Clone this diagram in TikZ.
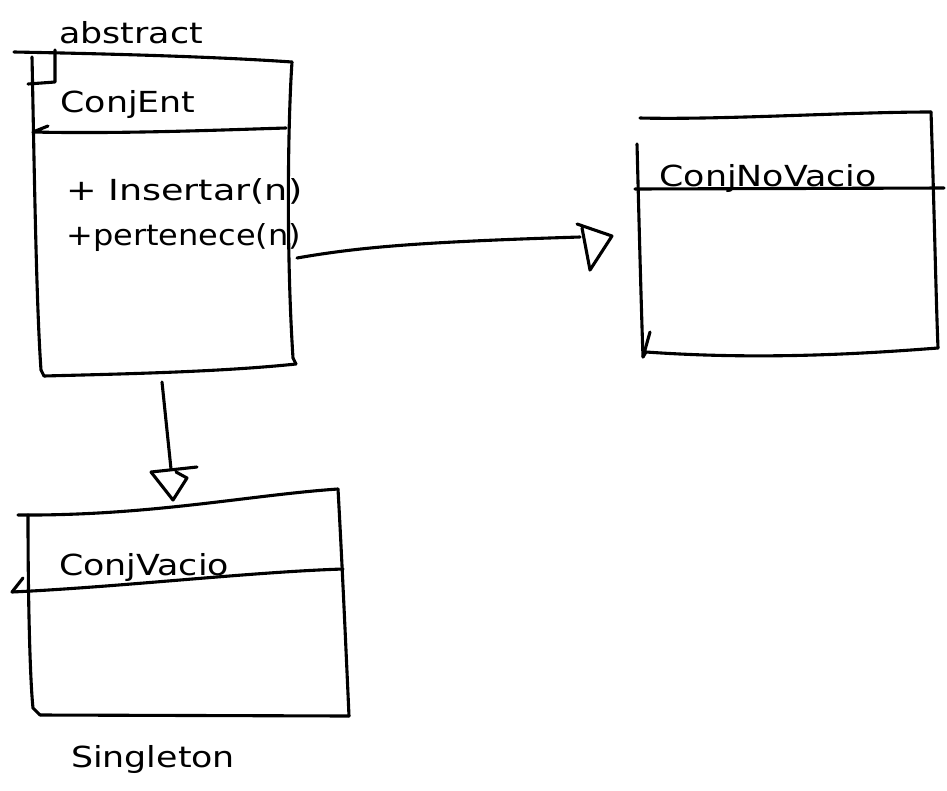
\documentclass[tikz,border=0pt]{standalone}
\usepackage{fontspec}
\newfontfamily\sketchfont[FakeStretch=1.2]{DejaVu Sans}
\begin{document}
\begin{tikzpicture}[x=1pt,y=-1pt,
  ink/.style={line width=3.1pt,line cap=round,line join=round,black},
  lbl/.style={font=\sketchfont\fontsize{29}{34}\selectfont,inner sep=0pt,text=black}]
\useasboundingbox (0,0) rectangle (947,790);

% ---------- ConjEnt (abstract) ----------
\coordinate (eTL) at (32,57);
\coordinate (eTR) at (292,62);
\coordinate (eBL) at (44,376);
\coordinate (eBR) at (296,364);
\draw[ink] (14,52) .. controls (120,54) and (220,57) .. (eTR);
\draw[ink] (eTR) .. controls (288,120) and (286,250) .. (293,358) -- (eBR);
\draw[ink] (eTL) .. controls (34,150) and (36,300) .. (41,370) -- (eBL);
\draw[ink] (eBL) .. controls (120,374) and (220,372) .. (eBR);
\draw[ink] (55,50) -- (55,82) -- (28,84);
\draw[ink] (48,126) -- (33,132) .. controls (120,134) and (220,130) .. (286,128);
\node[lbl,anchor=base] (abs) at (131,43) {abstract};
\node[lbl,anchor=base] (ent) at (128,112) {ConjEnt};
\node[lbl,anchor=base west] (ins) at (66,200) {\scalebox{1.05}[1]{+ Insertar(n)}};
\node[lbl,anchor=base west] (per) at (66,245) {\scalebox{0.92}[1]{+pertenece(n)}};

% ---------- ConjNoVacio ----------
\coordinate (nTL) at (640,118);
\coordinate (nTR) at (931,112);
\coordinate (nBL) at (646,352);
\coordinate (nBR) at (938,348);
\draw[ink] (nTL) .. controls (720,120) and (850,112) .. (nTR);
\draw[ink] (nTR) .. controls (934,200) and (936,300) .. (nBR);
\draw[ink] (637,144) .. controls (639,220) and (641,300) .. (643,357);
\draw[ink] (650,332) -- (643,357) -- (nBL) .. controls (760,360) and (860,354) .. (nBR);
\draw[ink] (635,189) -- (944,188);
\node[lbl,anchor=base] (nov) at (768,186) {ConjNoVacio};

% ---------- ConjVacio ----------
\coordinate (vTL) at (18,515);
\coordinate (vTR) at (338,489);
\coordinate (vBL) at (40,715);
\coordinate (vBR) at (349,716);
\draw[ink] (vTL) .. controls (150,516) and (250,495) .. (vTR);
\draw[ink] (vTR) .. controls (342,560) and (346,650) .. (vBR);
\draw[ink] (28,515) .. controls (28,600) and (30,680) .. (33,708) -- (vBL);
\draw[ink] (vBL) -- (vBR);
\draw[ink] (23,578) -- (12,592) .. controls (120,587) and (250,572) .. (343,569);
\node[lbl,anchor=base] (vac) at (144,575) {ConjVacio};
\node[lbl,anchor=base] (sing) at (153,767) {Singleton};

% ---------- connectors (generalization) ----------
\coordinate (h0) at (297,258);
\coordinate (h1) at (580,237);
\draw[ink] (h0) .. controls (360,247) and (420,242) .. (h1);
\draw[ink] (577,224) -- (612,236) -- (590,270) -- (582,228);

\coordinate (v0) at (162,382);
\coordinate (v1) at (171,469);
\draw[ink] (v0) -- (v1);
\draw[ink] (151,472) -- (197,467);
\draw[ink] (151,472) -- (173,500) -- (187,478) -- (176,472);
\end{tikzpicture}
\end{document}
